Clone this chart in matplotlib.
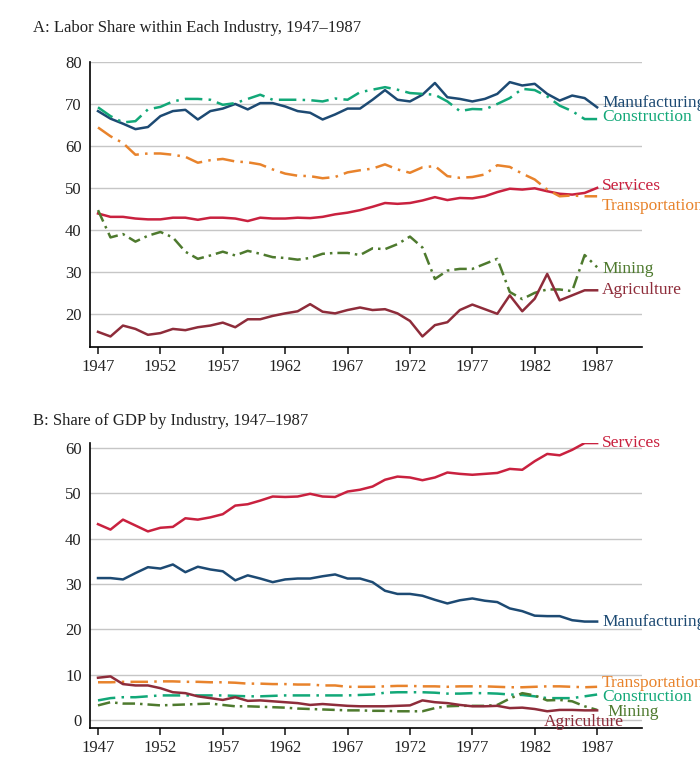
import numpy as np
import matplotlib.pyplot as plt

plt.rcParams["font.family"] = ["Liberation Serif", "DejaVu Serif"]

anos = list(range(1947, 1988))

# ============================================================
# DADOS - PAINEL A (participacao do trabalho)
# ============================================================

a_manufacturing = [68.3, 66.5, 65.3, 64.0, 64.5, 67.1, 68.3, 68.6, 66.3, 68.3,
                   68.9, 70.0, 68.7, 70.2, 70.2, 69.4, 68.3, 67.9, 66.3, 67.5,
                   68.9, 68.9, 71.0, 73.3, 71.0, 70.6, 72.2, 75.0, 71.6, 71.2,
                   70.6, 71.2, 72.4, 75.2, 74.4, 74.8, 72.4, 70.8, 72.0, 71.4,
                   69.2]
a_construction = [69.2, 67.1, 65.6, 65.9, 68.7, 69.3, 70.6, 71.2, 71.2, 71.0,
                  69.8, 70.2, 71.2, 72.2, 71.0, 71.0, 71.0, 70.9, 70.6, 71.3,
                  71.0, 72.8, 73.4, 74.0, 73.4, 72.6, 72.4, 72.2, 70.6, 68.3,
                  68.8, 68.7, 70.0, 71.4, 73.6, 73.3, 71.8, 69.6, 68.3, 66.4,
                  66.4]
a_services = [43.9, 43.1, 43.1, 42.7, 42.5, 42.5, 42.9, 42.9, 42.4, 42.9,
              42.9, 42.7, 42.1, 42.9, 42.7, 42.7, 42.9, 42.8, 43.1, 43.7,
              44.1, 44.7, 45.5, 46.4, 46.2, 46.4, 47.0, 47.8, 47.1, 47.6,
              47.5, 48.0, 49.0, 49.8, 49.6, 49.9, 49.2, 48.6, 48.4, 48.8,
              50.0]
a_transportation = [64.4, 62.3, 60.7, 57.9, 58.2, 58.2, 57.9, 57.4, 56.0, 56.6,
                    56.9, 56.3, 56.1, 55.6, 54.4, 53.4, 52.9, 52.8, 52.3, 52.6,
                    53.7, 54.2, 54.6, 55.6, 54.4, 53.6, 54.9, 55.2, 52.8, 52.4,
                    52.6, 53.2, 55.4, 55.0, 53.4, 52.0, 49.6, 48.0, 48.2, 48.0,
                    48.0]
a_mining = [44.7, 38.2, 39.0, 37.2, 38.6, 39.5, 38.2, 34.8, 33.1, 33.9,
            34.8, 33.9, 35.0, 34.3, 33.5, 33.3, 32.9, 33.3, 34.3, 34.5,
            34.5, 34.0, 35.6, 35.4, 36.6, 38.4, 35.8, 28.3, 30.3, 30.7,
            30.7, 31.9, 33.1, 25.2, 23.5, 25.0, 25.8, 25.8, 25.4, 34.0,
            31.1]
a_agriculture = [15.7, 14.6, 17.2, 16.4, 15.0, 15.4, 16.4, 16.1, 16.8, 17.2,
                 17.9, 16.8, 18.7, 18.7, 19.5, 20.1, 20.6, 22.3, 20.5, 20.1,
                 20.9, 21.5, 20.9, 21.1, 20.1, 18.3, 14.6, 17.3, 18.0, 20.9,
                 22.2, 21.1, 20.0, 24.4, 20.6, 23.6, 29.5, 23.2, 24.4, 25.6,
                 25.6]

# ============================================================
# DADOS - PAINEL B (participacao no PIB)
# ============================================================

b_services = [43.2, 42.0, 44.2, 42.9, 41.6, 42.4, 42.6, 44.5, 44.2, 44.7,
              45.4, 47.3, 47.6, 48.4, 49.3, 49.2, 49.3, 49.9, 49.3, 49.2,
              50.4, 50.8, 51.5, 53.0, 53.7, 53.5, 52.9, 53.5, 54.6, 54.3,
              54.1, 54.3, 54.5, 55.4, 55.2, 57.1, 58.7, 58.4, 59.6, 61.1,
              61.1]
b_manufacturing = [31.3, 31.3, 31.0, 32.4, 33.7, 33.4, 34.3, 32.6, 33.8, 33.2,
                   32.8, 30.8, 31.9, 31.2, 30.4, 31.0, 31.2, 31.2, 31.7, 32.1,
                   31.2, 31.2, 30.4, 28.5, 27.8, 27.8, 27.4, 26.5, 25.7, 26.4,
                   26.8, 26.3, 26.0, 24.6, 24.0, 23.0, 22.9, 22.9, 22.0, 21.7,
                   21.7]
b_transportation = [8.3, 8.3, 8.4, 8.4, 8.4, 8.5, 8.5, 8.4, 8.4, 8.3,
                    8.3, 8.2, 8.0, 8.0, 7.9, 7.9, 7.8, 7.8, 7.6, 7.6,
                    7.3, 7.3, 7.3, 7.4, 7.5, 7.5, 7.4, 7.4, 7.3, 7.4,
                    7.4, 7.4, 7.3, 7.2, 7.2, 7.3, 7.4, 7.4, 7.3, 7.2,
                    7.3]
b_construction = [4.3, 4.8, 5.0, 5.0, 5.2, 5.4, 5.4, 5.4, 5.4, 5.4,
                  5.4, 5.3, 5.2, 5.2, 5.3, 5.4, 5.4, 5.4, 5.4, 5.4,
                  5.4, 5.5, 5.6, 6.0, 6.1, 6.1, 6.1, 6.0, 5.8, 5.8,
                  5.9, 5.9, 5.8, 5.6, 5.5, 5.2, 4.8, 4.8, 4.8, 5.2,
                  5.6]
b_mining = [3.2, 3.9, 3.6, 3.6, 3.4, 3.2, 3.3, 3.4, 3.5, 3.6,
            3.3, 3.0, 3.0, 2.9, 2.8, 2.7, 2.5, 2.4, 2.3, 2.2,
            2.1, 2.1, 2.0, 2.0, 1.9, 1.9, 1.9, 2.6, 3.0, 3.1,
            3.1, 3.1, 3.3, 4.7, 5.9, 5.4, 4.3, 4.4, 4.1, 3.0,
            2.2]
b_agriculture = [9.3, 9.6, 7.9, 7.6, 7.6, 7.0, 6.1, 5.9, 5.2, 4.8,
                 4.4, 5.0, 4.2, 4.3, 4.1, 3.9, 3.7, 3.3, 3.5, 3.3,
                 3.1, 3.0, 3.0, 3.0, 3.1, 3.2, 4.3, 3.9, 3.7, 3.3,
                 3.0, 3.0, 3.1, 2.6, 2.7, 2.4, 1.9, 2.2, 2.2, 2.1,
                 2.1]

# ============================================================
# ESTILOS
# ============================================================

cores = {
    "Manufacturing": "#1d4a73",
    "Construction": "#12a878",
    "Services": "#c9213f",
    "Transportation": "#e8832c",
    "Mining": "#4e7a2e",
    "Agriculture": "#8e2c3a",
}
estilos = {
    "Manufacturing": "-",
    "Construction": (0, (7, 2.5, 1, 2.5)),
    "Services": "-",
    "Transportation": (0, (7, 2.5, 1, 2.5)),
    "Mining": (0, (5, 2, 1, 2)),
    "Agriculture": "-",
}

painel_a = {
    "Manufacturing": a_manufacturing,
    "Construction": a_construction,
    "Services": a_services,
    "Transportation": a_transportation,
    "Mining": a_mining,
    "Agriculture": a_agriculture,
}
painel_b = {
    "Manufacturing": b_manufacturing,
    "Construction": b_construction,
    "Services": b_services,
    "Transportation": b_transportation,
    "Mining": b_mining,
    "Agriculture": b_agriculture,
}

# posicoes dos rotulos (ano, valor)
rotulos_a = {
    "Manufacturing": (1987.4, 70.2),
    "Construction": (1987.4, 66.9),
    "Services": (1987.4, 50.5),
    "Transportation": (1987.4, 45.8),
    "Mining": (1987.4, 30.7),
    "Agriculture": (1987.4, 25.7),
}
rotulos_b = {
    "Manufacturing": (1987.4, 21.6),
    "Construction": (1987.4, 5.1),
    "Services": (1987.4, 61.2),
    "Transportation": (1987.4, 8.2),
    "Mining": (1987.8, 1.7),
    "Agriculture": (1982.7, -0.4),
}

fig = plt.figure(figsize=(7, 7.7), dpi=100)

ax_a = fig.add_axes([0.1286, 0.5494, 0.7886, 0.3701])
ax_b = fig.add_axes([0.1286, 0.0545, 0.7886, 0.3701])


def desenha(ax, series, rotulos, ylim, yticks):
    for nome, vals in series.items():
        ax.plot(anos, vals, color=cores[nome], linestyle=estilos[nome],
                linewidth=1.8, zorder=3)
        x, y = rotulos[nome]
        ax.text(x, y, nome, color=cores[nome], fontsize=12.5,
                ha="left", va="center", clip_on=False, zorder=4)
    ax.set_xlim(1946.36, 1990.6)
    ax.set_ylim(*ylim)
    ax.set_yticks(yticks)
    ax.set_xticks(range(1947, 1988, 5))
    ax.grid(axis="y", color="#c6c6c6", linewidth=1)
    ax.set_axisbelow(True)
    for lado in ["top", "right"]:
        ax.spines[lado].set_visible(False)
    ax.spines["left"].set_linewidth(1.2)
    ax.spines["bottom"].set_linewidth(1.2)
    ax.tick_params(axis="y", length=0, labelsize=12, pad=6, colors="#222222")
    ax.tick_params(axis="x", length=5, width=1.2, labelsize=12, colors="#222222")


desenha(ax_a, painel_a, rotulos_a, (12.1, 80), [20, 30, 40, 50, 60, 70, 80])
desenha(ax_b, painel_b, rotulos_b, (-1.8, 61.1), [0, 10, 20, 30, 40, 50, 60])

fig.text(33 / 700, 1 - 28 / 770,
         "A: Labor Share within Each Industry, 1947\u20131987",
         fontsize=12, ha="left", va="center", color="#222222")
fig.text(33 / 700, 1 - 421 / 770,
         "B: Share of GDP by Industry, 1947\u20131987",
         fontsize=12, ha="left", va="center", color="#222222")

fig.savefig("out.png", dpi=100)
plt.close(fig)
